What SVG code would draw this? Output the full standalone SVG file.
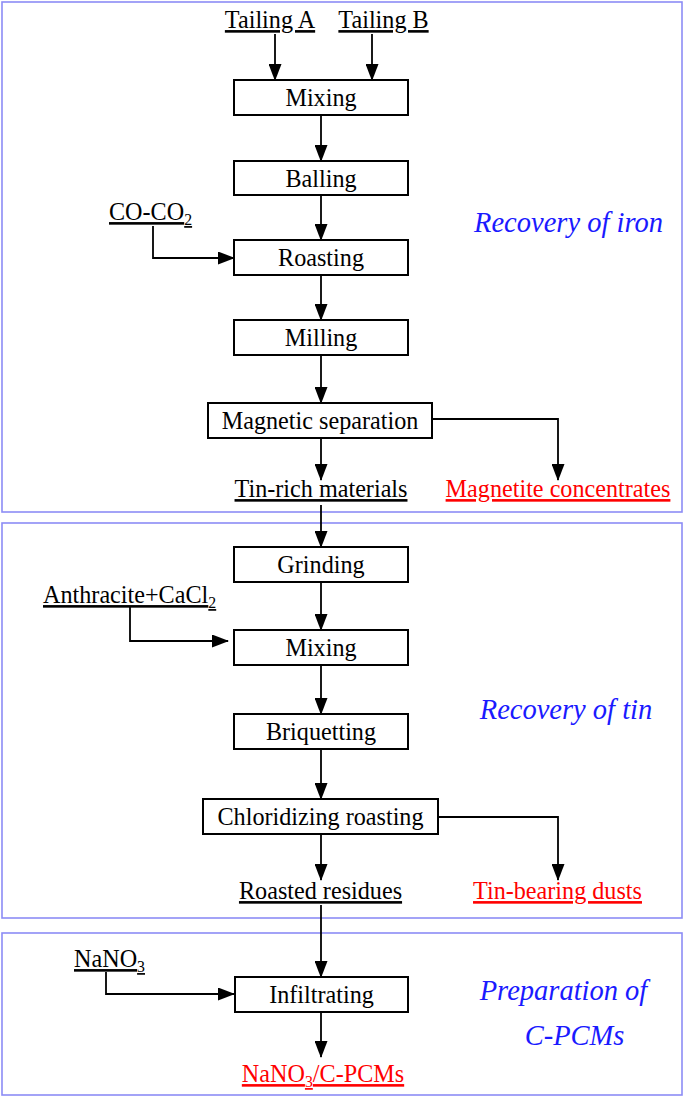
<svg xmlns="http://www.w3.org/2000/svg" width="685" height="1098" viewBox="0 0 685 1098">
<style>
text{font-family:"Liberation Serif","Times New Roman",serif;font-size:26px;fill:#000}
.c{text-anchor:middle}
.u{text-decoration:underline}
.red{fill:#ff0000}
.lab{font-style:italic;fill:#1a1aff;font-size:28.5px;text-anchor:middle}
.box{fill:#fff;stroke:#000;stroke-width:2}
.frame{fill:none;stroke:#8c8cf5;stroke-width:1.6}
.con{fill:none;stroke:#000;stroke-width:1.8;marker-end:url(#ah)}
.sub{font-size:17px}
</style>
<defs>
<marker id="ah" markerUnits="userSpaceOnUse" markerWidth="17" markerHeight="13" refX="16" refY="6.5" orient="auto">
<path d="M0,0 L17,6.5 L0,13 z" fill="#000"/>
</marker>
</defs>
<rect width="685" height="1098" fill="#fff"/>
<g id="frames">
<rect class="frame" x="2" y="2" width="680" height="510"/>
<rect class="frame" x="2" y="523" width="680" height="395"/>
<rect class="frame" x="2" y="933" width="680" height="162"/>
</g>
<g id="connectors">
<path class="con" d="M275,34 V80"/>
<path class="con" d="M372,34 V80"/>
<path class="con" d="M321,115 V161"/>
<path class="con" d="M321,195 V240"/>
<path class="con" d="M153,226 V258 H234"/>
<path class="con" d="M321,275 V320"/>
<path class="con" d="M321,355 V403"/>
<path class="con" d="M321,438 V480"/>
<path class="con" d="M432,419 H558 V480"/>
<path class="con" d="M321,505 V547"/>
<path class="con" d="M321,582 V630"/>
<path class="con" d="M130,607 V641 H228"/>
<path class="con" d="M321,665 V714"/>
<path class="con" d="M321,749 V799"/>
<path class="con" d="M321,834 V880"/>
<path class="con" d="M438,817 H558 V880"/>
<path class="con" d="M321,905 V977"/>
<path class="con" d="M106,972 V994 H234"/>
<path class="con" d="M321,1012 V1057"/>
</g>
<g id="tailingA"><text class="c u" transform="translate(270,28) scale(0.93,1)">Tailing A</text></g>
<g id="tailingB"><text class="c u" transform="translate(383.5,28) scale(0.93,1)">Tailing B</text></g>
<g id="mixing1"><rect class="box" x="234" y="80" width="174" height="35"/><text class="c" transform="translate(321,106) scale(0.93,1)">Mixing</text></g>
<g id="balling"><rect class="box" x="234" y="161" width="174" height="34"/><text class="c" transform="translate(321,186.5) scale(0.93,1)">Balling</text></g>
<g id="coco2"><text class="u" transform="translate(109,220) scale(0.93,1)">CO-CO<tspan class="sub" dy="5">2</tspan></text></g>
<g id="roasting"><rect class="box" x="234" y="240" width="174" height="35"/><text class="c" transform="translate(321,266) scale(0.93,1)">Roasting</text></g>
<g id="milling"><rect class="box" x="234" y="320" width="174" height="35"/><text class="c" transform="translate(321,346) scale(0.93,1)">Milling</text></g>
<g id="magsep"><rect class="box" x="208" y="403" width="224" height="35"/><text class="c" transform="translate(320,429) scale(0.93,1)">Magnetic separation</text></g>
<g id="tinrich"><text class="c u" transform="translate(321,497) scale(0.93,1)">Tin-rich materials</text></g>
<g id="magnetite"><text class="c u red" transform="translate(558,497) scale(0.93,1)">Magnetite concentrates</text></g>
<g id="labelIron"><text class="lab" x="568.5" y="232">Recovery of iron</text></g>
<g id="grinding"><rect class="box" x="234" y="547" width="174" height="35"/><text class="c" transform="translate(321,573) scale(0.93,1)">Grinding</text></g>
<g id="anthracite"><text class="u" transform="translate(43,603) scale(0.93,1)">Anthracite+CaCl<tspan class="sub" dy="5">2</tspan></text></g>
<g id="mixing2"><rect class="box" x="234" y="630" width="174" height="35"/><text class="c" transform="translate(321,656) scale(0.93,1)">Mixing</text></g>
<g id="briquetting"><rect class="box" x="234" y="714" width="174" height="35"/><text class="c" transform="translate(321,740) scale(0.93,1)">Briquetting</text></g>
<g id="chlor"><rect class="box" x="203" y="799" width="235" height="35"/><text class="c" transform="translate(320.5,825) scale(0.93,1)">Chloridizing roasting</text></g>
<g id="roasted"><text class="c u" transform="translate(320.5,899) scale(0.93,1)">Roasted residues</text></g>
<g id="tinbearing"><text class="c u red" transform="translate(557.5,899) scale(0.93,1)">Tin-bearing dusts</text></g>
<g id="labelTin"><text class="lab" x="566" y="719">Recovery of tin</text></g>
<g id="nano3"><text class="u" transform="translate(74,967) scale(0.93,1)">NaNO<tspan class="sub" dy="5">3</tspan></text></g>
<g id="infiltrating"><rect class="box" x="235" y="977" width="173" height="35"/><text class="c" transform="translate(321.5,1003) scale(0.93,1)">Infiltrating</text></g>
<g id="product"><text class="c u red" transform="translate(323,1082) scale(0.93,1)">NaNO<tspan class="sub" dy="5">3</tspan><tspan dy="-5">/C-PCMs</tspan></text></g>
<g id="labelPCM"><text class="lab" x="563.5" y="1000">Preparation of</text><text class="lab" x="574.5" y="1045">C-PCMs</text></g>
</svg>
